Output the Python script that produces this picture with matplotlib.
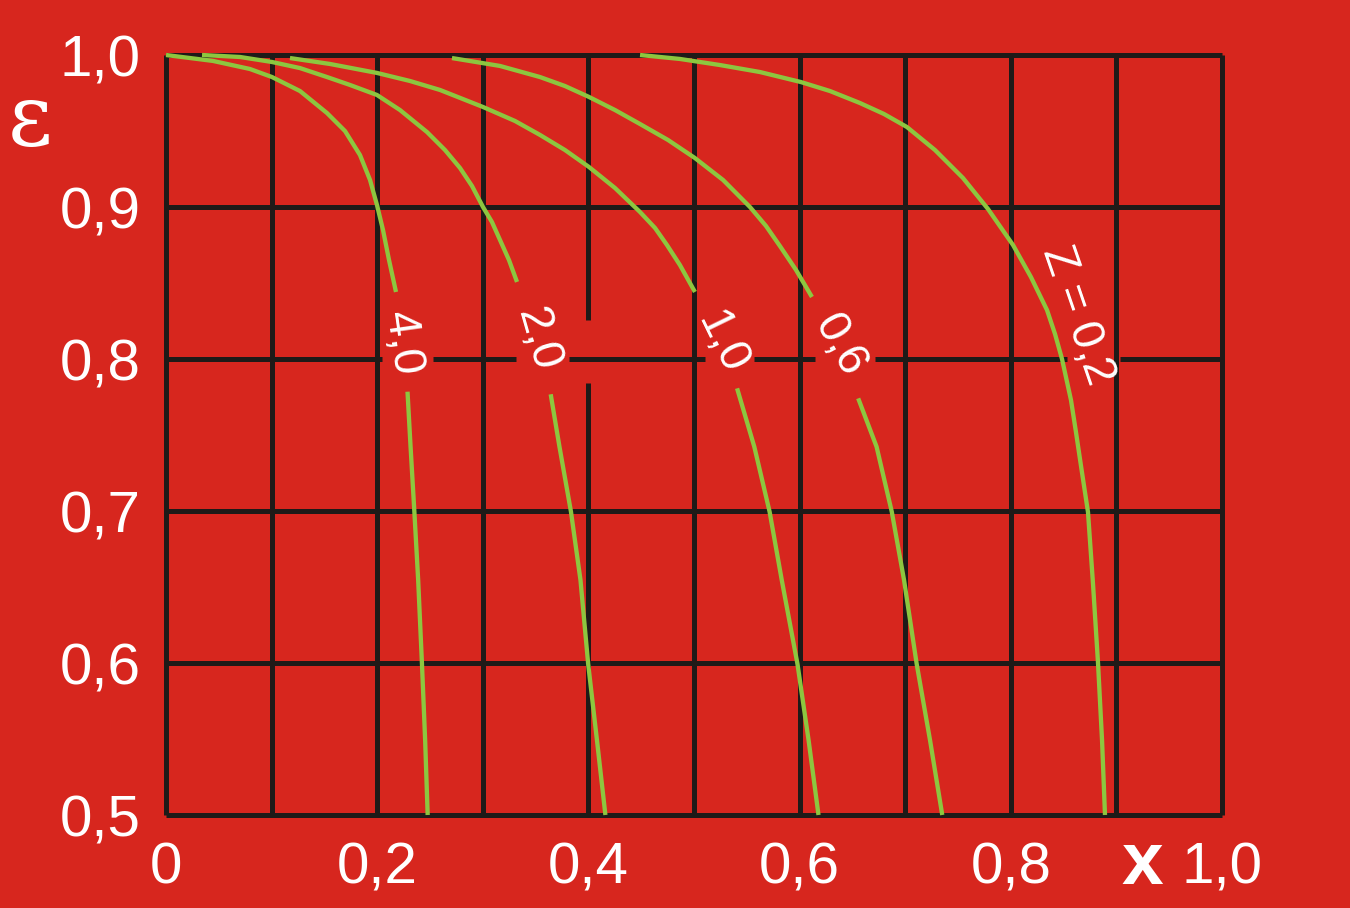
import matplotlib
matplotlib.use("Agg")
import matplotlib.pyplot as plt

BG = "#D7261E"
GREEN = "#8DC63F"
GRID = "#1E1A18"
WHITE = "#FFFFFF"

# ---------------- data ----------------
x_ticks = [0.0, 0.2, 0.4, 0.6, 0.8, 1.0]
x_tick_labels = ["0", "0,2", "0,4", "0,6", "0,8", "1,0"]
y_ticks = [0.5, 0.6, 0.7, 0.8, 0.9, 1.0]
y_tick_labels = ["0,5", "0,6", "0,7", "0,8", "0,9", "1,0"]

curve_labels = ["4,0", "2,0", "1,0", "0,6", "Z = 0,2"]

z40_upper_x = [0.0000, 0.0445, 0.0795, 0.1004, 0.1269, 0.1525, 0.1695, 0.1837,
               0.1932, 0.1998, 0.2055, 0.2112, 0.2178]
z40_upper_y = [1.0000, 0.9961, 0.9908, 0.9855, 0.9763, 0.9618, 0.9500, 0.9342,
               0.9178, 0.9013, 0.8849, 0.8651, 0.8441]
z40_lower_x = [0.2287, 0.2316, 0.2352, 0.2388, 0.2424, 0.2454, 0.2478]
z40_lower_y = [0.7785, 0.7423, 0.6995, 0.6546, 0.5993, 0.5493, 0.5000]

z20_upper_x = [0.0341, 0.0701, 0.1004, 0.1269, 0.1525, 0.1742, 0.1998, 0.2216,
               0.2472, 0.2642, 0.2784, 0.2898, 0.3002, 0.3087, 0.3163, 0.3248, 0.3324]
z20_upper_y = [1.0000, 0.9987, 0.9954, 0.9914, 0.9855, 0.9803, 0.9737, 0.9638,
               0.9493, 0.9375, 0.9257, 0.9138, 0.9000, 0.8901, 0.8783, 0.8651, 0.8507]
z20_lower_x = [0.3643, 0.3726, 0.3835, 0.3925, 0.3998, 0.4081, 0.4161]
z20_lower_y = [0.7768, 0.7423, 0.6995, 0.6546, 0.5993, 0.5493, 0.5000]

z10_upper_x = [0.1174, 0.1553, 0.1998, 0.2311, 0.2595, 0.3002, 0.3305, 0.3542,
               0.3778, 0.4006, 0.4252, 0.4489, 0.4631, 0.4744, 0.4867, 0.5009]
z10_upper_y = [0.9980, 0.9941, 0.9882, 0.9829, 0.9770, 0.9658, 0.9566, 0.9474,
               0.9375, 0.9263, 0.9125, 0.8967, 0.8862, 0.8750, 0.8618, 0.8441]
z10_lower_x = [0.5408, 0.5571, 0.5716, 0.5831, 0.5980, 0.6085, 0.6179]
z10_lower_y = [0.7807, 0.7423, 0.6995, 0.6546, 0.5993, 0.5493, 0.5000]

z06_upper_x = [0.2708, 0.3163, 0.3542, 0.3778, 0.4006, 0.4252, 0.4489, 0.4754,
               0.5009, 0.5275, 0.5530, 0.5682, 0.5814, 0.5966, 0.6117]
z06_upper_y = [0.9980, 0.9928, 0.9855, 0.9796, 0.9724, 0.9638, 0.9546, 0.9441,
               0.9322, 0.9178, 0.9000, 0.8875, 0.8743, 0.8586, 0.8408]
z06_lower_x = [0.6555, 0.6729, 0.6873, 0.6989, 0.7109, 0.7235, 0.7351]
z06_lower_y = [0.7741, 0.7423, 0.6995, 0.6546, 0.5993, 0.5493, 0.5000]

z02_x = [0.4489, 0.4867, 0.5246, 0.5625, 0.6013, 0.6288, 0.6572, 0.6799, 0.7017,
         0.7282, 0.7547, 0.7784, 0.8021, 0.8191, 0.8343, 0.8419, 0.8485, 0.8570,
         0.8617, 0.8665, 0.8731, 0.8778, 0.8826, 0.8864, 0.8892]
z02_y = [1.0000, 0.9974, 0.9934, 0.9888, 0.9822, 0.9763, 0.9684, 0.9612, 0.9526,
         0.9375, 0.9191, 0.8987, 0.8750, 0.8539, 0.8322, 0.8164, 0.8000, 0.7730,
         0.7520, 0.7296, 0.6993, 0.6526, 0.6000, 0.5493, 0.5000]

# label anchor positions (data coords) and rotations
label_x = [0.2235, 0.3520, 0.5265, 0.6380, 0.8627]
label_y = [0.8105, 0.8125, 0.8105, 0.8090, 0.8290]
label_rot = [-82, -74, -64, -61, -71]

# grid layout
grid_x = [0.0, 0.1, 0.2, 0.3, 0.4, 0.5, 0.6, 0.7, 0.8, 0.9, 1.0]
grid_y_full = [0.5, 0.6, 0.7, 0.9, 1.0]
# y = 0.8 line is interrupted by labels
gap_line_segments = [(0.0, 0.2045), (0.253, 0.331), (0.382, 0.510),
                     (0.557, 0.615), (0.671, 0.853), (0.903, 1.0)]
# x = 0.4 vertical line has a gap
x04_segments = [(0.5, 0.7842), (0.8257, 1.0)]

# ---------------- figure ----------------
fig = plt.figure(figsize=(13.5, 9.08), dpi=100, facecolor=BG)
ax = fig.add_axes([0.12296, 0.10242, 0.78222, 0.83700])
ax.set_facecolor(BG)
ax.set_xlim(0, 1)
ax.set_ylim(0.5, 1.0)
for s in ax.spines.values():
    s.set_visible(False)

glw = 3.6
for gx in grid_x:
    if abs(gx - 0.4) < 1e-9:
        for (a, b) in x04_segments:
            ax.vlines(gx, a, b, color=GRID, lw=glw, clip_on=False, zorder=1)
    else:
        ax.vlines(gx, 0.5, 1.0, color=GRID, lw=glw, clip_on=False, zorder=1)
for gy in grid_y_full:
    ax.hlines(gy, 0, 1, color=GRID, lw=glw, clip_on=False, zorder=1)
for (a, b) in gap_line_segments:
    ax.hlines(0.8, a, b, color=GRID, lw=glw, clip_on=False, zorder=1)

clw = 3.1
curves = [
    (z40_upper_x, z40_upper_y), (z40_lower_x, z40_lower_y),
    (z20_upper_x, z20_upper_y), (z20_lower_x, z20_lower_y),
    (z10_upper_x, z10_upper_y), (z10_lower_x, z10_lower_y),
    (z06_upper_x, z06_upper_y), (z06_lower_x, z06_lower_y),
    (z02_x, z02_y),
]
for cx, cy in curves:
    ax.plot(cx, cy, color=GREEN, lw=clw, solid_capstyle="butt",
            solid_joinstyle="round", clip_on=False, zorder=3)

for t, lx, ly, r in zip(curve_labels, label_x, label_y, label_rot):
    ax.text(lx, ly, t, rotation=r, rotation_mode="anchor", ha="center",
            va="center", color=WHITE, fontsize=33, family="Liberation Sans",
            zorder=4)

ax.set_xticks(x_ticks)
ax.set_xticklabels(x_tick_labels)
ax.set_yticks(y_ticks)
ax.set_yticklabels(y_tick_labels)
ax.tick_params(axis="both", length=0, colors=WHITE, labelsize=42)
ax.tick_params(axis="x", pad=19)
ax.tick_params(axis="y", pad=18)
for lab in ax.get_xticklabels() + ax.get_yticklabels():
    lab.set_family("Liberation Sans")

# axis symbols
fig.text(1142 / 1350, 1 - 865 / 908, "x", color=WHITE, fontsize=54,
         fontweight="bold", family="Liberation Sans", ha="center", va="center")
fig.text(30 / 1350, 1 - 121 / 908, "ε", color=WHITE, fontsize=62,
         family="DejaVu Serif", ha="center", va="center")

fig.savefig("out.png", dpi=100, facecolor=BG)
